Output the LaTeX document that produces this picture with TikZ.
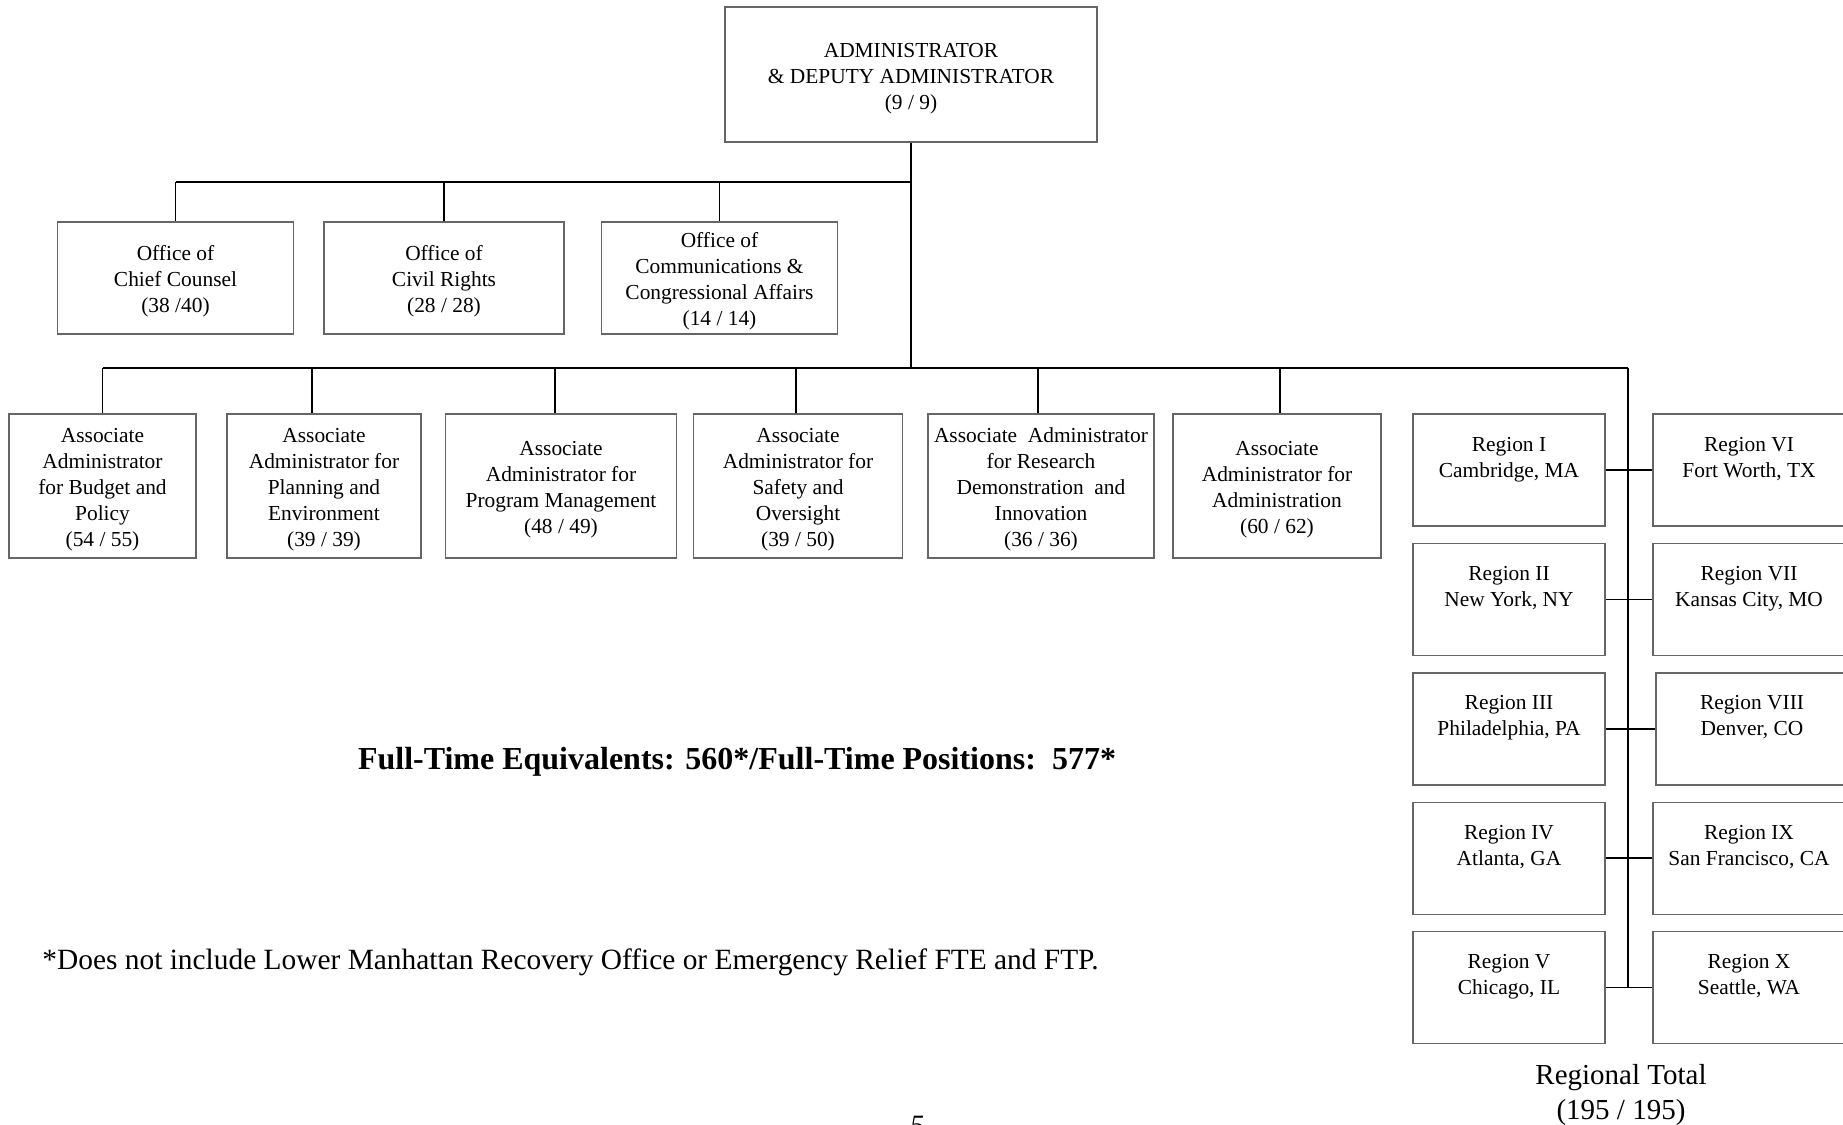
\documentclass[tikz,border=0pt]{standalone}
\usepackage{fontspec}
\setmainfont{Liberation Serif}
\usepackage{tikz}
\usetikzlibrary{positioning,calc}
\newcommand{\boxtop}{\rule{0pt}{11pt}}
\tikzset{
x=0.5pt,y=-0.5pt,
inner sep=1mm,
node distance=8pt,
box/.style={rectangle,draw=black!60,line width=0.7pt,align=center,
  font=\fontsize{10.7}{13}\selectfont},
office/.style={box,minimum width=118pt,minimum height=56pt},
assoc/.style={box,minimum height=72pt},
region/.style={box,minimum width=96pt,minimum height=56pt},
bus/.style={line width=1pt},
drop/.style={line width=0.8pt},
}

\begin{document}
\begin{tikzpicture}
	\useasboundingbox (0,0) rectangle (1843,1125);

	% head of the agency
	\node[box,minimum width=186pt,minimum height=67.5pt] (admin) at (911,74.5)
		{\boxtop ADMINISTRATOR\\\& DEPUTY ADMINISTRATOR\\(9 / 9)};

	% staff offices
	\node[office] (counsel) at (175.5,278) {\boxtop Office of\\Chief Counsel\\(38 /40)};
	\node[office,minimum width=120pt] (civil) at (444,278) {\boxtop Office of\\Civil Rights\\(28 / 28)};
	\node[office,inner ysep=0pt] (comms) at (719.5,278) {\boxtop Office of\\Communications \&\\Congressional Affairs\\(14 / 14)};

	% associate administrators
	\node[assoc,minimum width=93.5pt] (budget) at (102.5,486)
		{\boxtop Associate\\Administrator\\for Budget and\\Policy\\(54 / 55)};
	\node[assoc,minimum width=97pt] (plan) at (324,486)
		{\boxtop Associate\\Administrator for\\Planning and\\Environment\\(39 / 39)};
	\node[assoc,minimum width=115.5pt] (prog) at (561,486)
		{\boxtop Associate\\Administrator for\\Program Management\\(48 / 49)};
	\node[assoc,minimum width=104.5pt] (safety) at (798,486)
		{\boxtop Associate\\Administrator for\\Safety and\\Oversight\\(39 / 50)};
	\node[assoc,minimum width=113pt] (research) at (1041,486)
		{\boxtop Associate~ Administrator\\for Research\\Demonstration~ and\\Innovation\\(36 / 36)};
	\node[assoc,minimum width=104pt] (adm) at (1277,486)
		{\boxtop Associate\\Administrator for\\Administration\\(60 / 62)};

	% regions
	\node[region] (regI) at (1509,470) {Region I\\Cambridge, MA\\~};
	\node[region,below=of regI] (regII) {Region II\\New York, NY\\~};
	\node[region,below=of regII] (regIII) {Region III\\Philadelphia, PA\\~};
	\node[region,below=of regIII] (regIV) {Region IV\\Atlanta, GA\\~};
	\node[region,below=of regIV] (regV) {Region V\\Chicago, IL\\~};
	\node[region] (regVI) at (1749,470) {Region VI\\Fort Worth, TX\\~};
	\node[region,below=of regVI] (regVII) {Region VII\\Kansas City, MO\\~};
	\node[region,below=of regVII,xshift=1.5pt] (regVIII) {Region VIII\\Denver, CO\\~};
	\node[region,below=of regVIII,xshift=-1.5pt] (regIX) {Region IX\\San Francisco, CA\\~};
	\node[region,below=of regIX] (regX) {Region X\\Seattle, WA\\~};

	\node[font=\fontsize{14.5}{17.5}\selectfont,align=center] (total) at (1621,1095)
		{Regional Total\\(195 / 195)};

	\node[font=\fontsize{16}{19}\selectfont\bfseries] (fte) at (737,762)
		{Full-Time Equivalents: 560*/Full-Time Positions:\ \ 577*};
	\node[font=\fontsize{14.7}{17}\selectfont,anchor=west,inner sep=0pt] (note) at (42,962)
		{*Does not include Lower Manhattan Recovery Office or Emergency Relief FTE and FTP.};
	\node[font=\fontsize{14}{17}\selectfont\itshape,anchor=north,inner sep=0pt] (page) at (917,1116) {5};

	% connectors
	\coordinate (hub1) at (911,182);
	\coordinate (hub2) at (911,368);
	\coordinate (spine) at (1628,368);

	\draw[bus] (admin.south) -- (hub2);
	\draw[bus] (counsel.north |- hub1) -- (hub1);
	\foreach \n in {counsel,civil,comms}
		\draw[drop] (\n.north) -- (\n.north |- hub1);

	\draw[bus] (budget.north |- hub2) -- (spine);
	\foreach \n/\s in {budget/0pt,plan/-6pt,prog/-3pt,safety/-1pt,research/-1.5pt,adm/1.5pt}
		\draw[drop] ([xshift=\s]\n.north) -- ([xshift=\s]\n.north |- hub2);

	\draw[bus] (spine) -- (spine |- regV.east);
	\foreach \l/\r in {regI/regVI,regII/regVII,regIII/regVIII,regIV/regIX,regV/regX}
		\draw[drop] (\l.east) -- (\r.west);
\end{tikzpicture}
\end{document}
